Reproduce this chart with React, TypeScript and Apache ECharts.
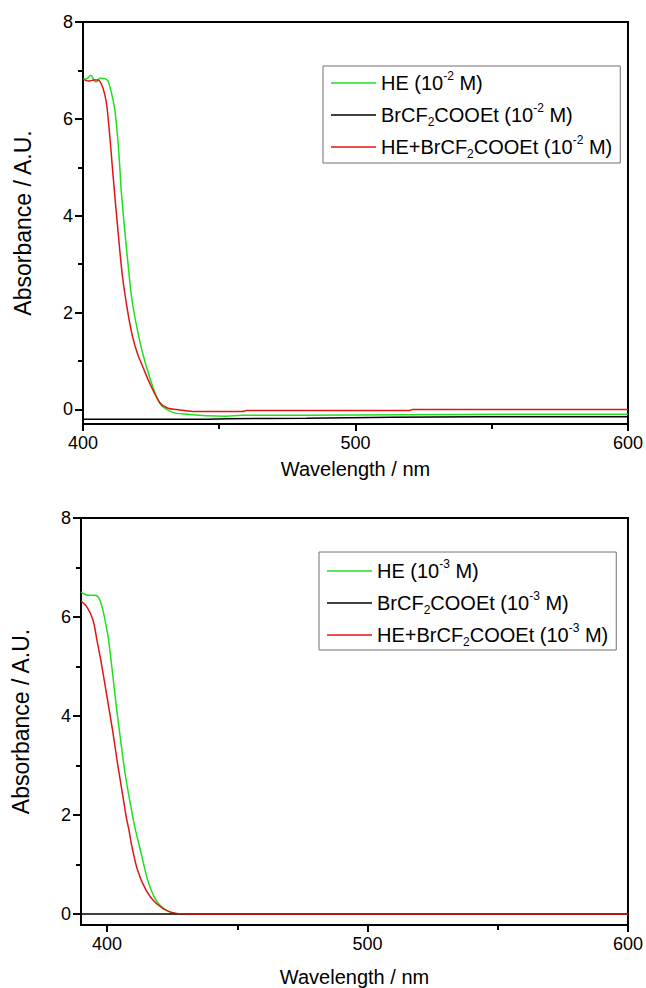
import React, { useEffect, useRef } from "react";
import * as echarts from "echarts";

// ---- Top chart (10^-2 M) ----
const heWl2 = [400, 401.5, 402.9, 404, 404.8, 406.2, 408, 409.2, 409.9, 410.8, 411.7, 412.8, 413.5, 414.1, 415.4, 417.0, 418.0, 419.8, 421.9, 424.5, 427.1, 429.2, 432.9, 438, 445, 452.6, 458.5, 480, 520, 560, 600];
const heAbs2 = [6.82, 6.83, 6.9, 6.8, 6.76, 6.84, 6.83, 6.78, 6.65, 6.45, 6.18, 5.56, 5.0, 4.47, 3.65, 2.74, 2.25, 1.69, 1.16, 0.66, 0.25, 0.06, -0.06, -0.1, -0.13, -0.14, -0.12, -0.12, -0.11, -0.1, -0.1];
const brWl2 = [400, 444, 453, 482, 513, 546, 600];
const brAbs2 = [-0.2, -0.2, -0.19, -0.18, -0.16, -0.15, -0.15];
const mixWl2 = [400, 402, 404, 405.5, 406.9, 408, 408.8, 409.9, 411, 412.9, 414.5, 416.5, 418.2, 420, 421.6, 424.5, 428.2, 431, 435.5, 440.2, 458.5, 460, 520, 521, 600];
const mixAbs2 = [6.82, 6.78, 6.8, 6.8, 6.7, 6.5, 6.24, 5.6, 4.85, 3.65, 2.74, 1.99, 1.5, 1.15, 0.93, 0.54, 0.14, 0.03, -0.01, -0.04, -0.04, -0.02, -0.02, 0.0, 0.0];

// ---- Bottom chart (10^-3 M) ----
const heWl3 = [390, 392.7, 395.3, 396.9, 398.4, 399.9, 400.6, 402.1, 403.6, 405.2, 406.9, 408.7, 410.7, 413.1, 415.6, 418.8, 422.7, 427.7, 435, 600];
const heAbs3 = [6.51, 6.44, 6.44, 6.38, 6.14, 5.75, 5.54, 4.87, 4.18, 3.52, 2.85, 2.3, 1.75, 1.23, 0.69, 0.28, 0.08, 0.0, 0.0, 0.0];
const brWl3 = [390, 500, 600];
const brAbs3 = [0, 0, 0];
const mixWl3 = [390, 392.2, 394.6, 396.1, 397.6, 400.2, 402.1, 404.0, 405.9, 407.4, 408.4, 409.3, 411.7, 415, 418.8, 423.9, 430.3, 440, 600];
const mixAbs3 = [6.32, 6.21, 5.94, 5.54, 5.13, 4.32, 3.72, 3.05, 2.44, 1.95, 1.7, 1.43, 0.89, 0.48, 0.22, 0.05, 0.0, 0.0, 0.0];

const names2 = ["HE (10-2 M)", "BrCF2COOEt (10-2 M)", "HE+BrCF2COOEt (10-2 M)"];
const names3 = ["HE (10-3 M)", "BrCF2COOEt (10-3 M)", "HE+BrCF2COOEt (10-3 M)"];

const xMajor2 = [400, 500, 600];
const xMinor2 = [450, 550];
const xMajor3 = [400, 500, 600];
const xMinor3 = [450, 550];
const yMajor = [0, 2, 4, 6, 8];
const yMinor = [1, 3, 5, 7];

const GREEN = "#1ee01e";
const RED = "#e01515";
const BLACK = "#000000";
const FONT = "'Liberation Sans', Arial, sans-serif";

const pairs = (xs: number[], ys: number[]) => xs.map((x, i) => [x, ys[i]]);

const fmtName = (n: string) =>
  n.replace("CF2", "CF{sub|2}").replace(/10-(\d)/, "10{sup|-$1}");

export default function App() {
  const ref = useRef<HTMLDivElement>(null);
  useEffect(() => {
    if (!ref.current) return;
    const chart = echarts.init(ref.current, undefined, { renderer: "svg" });

    const grids = [
      { left: 83, top: 22, width: 547, height: 402 },
      { left: 81, top: 518, width: 551, height: 407 },
    ];
    const ranges = [
      { xmin: 400, xmax: 600, ymin: -0.3, major: xMajor2, minor: xMinor2, gap: 35 },
      { xmin: 390, xmax: 600, ymin: -0.22, major: xMajor3, minor: xMinor3, gap: 42 },
    ];

    const xAxis: any[] = [];
    const yAxis: any[] = [];
    ranges.forEach((r, g) => {
      xAxis.push({
        type: "value",
        gridIndex: g,
        position: "bottom",
        min: r.xmin,
        max: r.xmax,
        name: "Wavelength / nm",
        nameLocation: "middle",
        nameGap: r.gap,
        nameTextStyle: { fontSize: 20, color: "#000", fontFamily: FONT },
        axisLine: { onZero: false, lineStyle: { color: "#000", width: 2 } },
        axisTick: { customValues: r.major, length: 7, lineStyle: { color: "#000", width: 2 } },
        axisLabel: { customValues: r.major, fontSize: 18, color: "#000", fontFamily: FONT, margin: 10 },
        splitLine: { show: false },
      });
      xAxis.push({
        type: "value",
        gridIndex: g,
        position: "bottom",
        min: r.xmin,
        max: r.xmax,
        axisLine: { show: false, onZero: false },
        axisTick: { customValues: r.minor, length: 5, lineStyle: { color: "#000", width: 2 } },
        axisLabel: { show: false },
        splitLine: { show: false },
      });
      yAxis.push({
        type: "value",
        gridIndex: g,
        position: "left",
        min: r.ymin,
        max: 8,
        name: "Absorbance / A.U.",
        nameLocation: "middle",
        nameGap: 49,
        nameTextStyle: { fontSize: 23, color: "#000", fontFamily: FONT },
        axisLine: { show: true, onZero: false, lineStyle: { color: "#000", width: 2 } },
        axisTick: { show: true, customValues: yMajor, length: 8, lineStyle: { color: "#000", width: 2 } },
        axisLabel: { customValues: yMajor, fontSize: 18, color: "#000", fontFamily: FONT, margin: 10 },
        splitLine: { show: false },
      });
      yAxis.push({
        type: "value",
        gridIndex: g,
        position: "left",
        min: r.ymin,
        max: 8,
        axisLine: { show: false, onZero: false },
        axisTick: { show: true, customValues: yMinor, length: 5, lineStyle: { color: "#000", width: 2 } },
        axisLabel: { show: false },
        splitLine: { show: false },
      });
    });

    const lineSeries = (name: string, color: string, data: number[][], g: number) => ({
      type: "line",
      name,
      xAxisIndex: g * 2,
      yAxisIndex: g * 2,
      data,
      symbol: "none",
      smooth: 0.3,
      lineStyle: { color, width: 1.5 },
      itemStyle: { color },
    });

    const rich = {
      sup: { fontSize: 12, lineHeight: 20, verticalAlign: "top", fontFamily: FONT, color: "#000" },
      sub: { fontSize: 12, lineHeight: 6, verticalAlign: "bottom", fontFamily: FONT, color: "#000" },
    };
    const legendBase = {
      orient: "vertical",
      icon: "rect",
      itemWidth: 45,
      itemHeight: 1.5,
      itemGap: 6,
      selectedMode: false,
      borderColor: "#707070",
      borderWidth: 1,
      formatter: fmtName,
      textStyle: { fontSize: 20, lineHeight: 26, color: "#000", fontFamily: FONT, rich },
    };

    chart.setOption({
      animation: false,
      backgroundColor: "#fff",
      grid: grids.map((g) => ({ ...g, show: true, borderColor: "#000", borderWidth: 2, backgroundColor: "transparent" })),
      xAxis,
      yAxis,
      legend: [
        { ...legendBase, data: names2, left: 323, top: 66, padding: [4, 8, 3, 8] },
        { ...legendBase, data: names3, left: 319, top: 552, padding: [6, 8, 2, 8] },
      ],
      series: [
        lineSeries(names2[0], GREEN, pairs(heWl2, heAbs2), 0),
        lineSeries(names2[1], BLACK, pairs(brWl2, brAbs2), 0),
        lineSeries(names2[2], RED, pairs(mixWl2, mixAbs2), 0),
        lineSeries(names3[0], GREEN, pairs(heWl3, heAbs3), 1),
        lineSeries(names3[1], BLACK, pairs(brWl3, brAbs3), 1),
        lineSeries(names3[2], RED, pairs(mixWl3, mixAbs3), 1),
      ],
    });
    return () => chart.dispose();
  }, []);
  return (
    <div
      ref={ref}
      style={{ position: "absolute", left: 0, top: 0, width: 646, height: 988, background: "#fff" }}
    />
  );
}
